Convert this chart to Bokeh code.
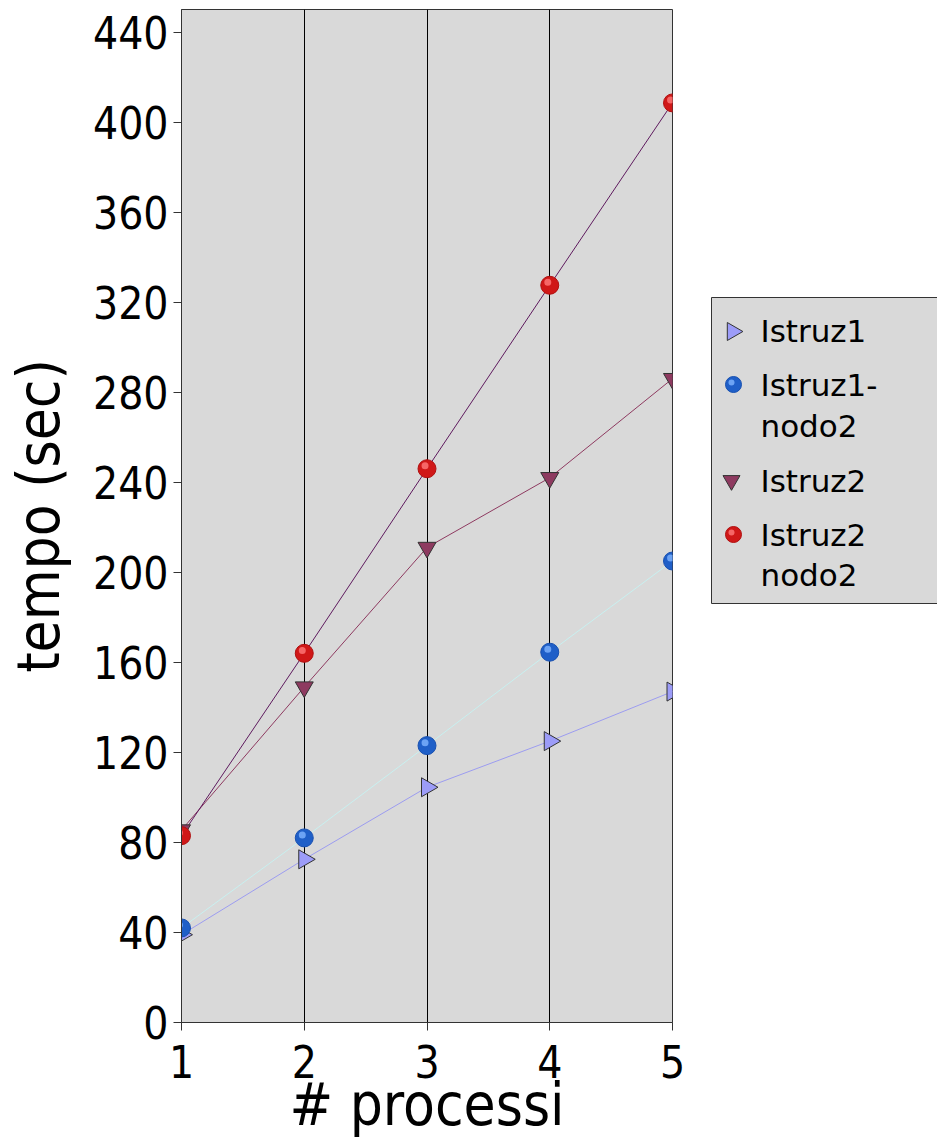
import numpy as np
from bokeh.plotting import figure
from bokeh.layouts import row
from bokeh.core.properties import value
from bokeh.models import Range1d, FixedTicker, ColumnDataSource
from bokeh.transform import dodge
from bokeh.embed import file_html
from bokeh.resources import INLINE

processi = [1, 2, 3, 4, 5]
istruz1 = [39, 72.5, 104.5, 125, 147]
istruz1_nodo2 = [42, 82, 123, 164.5, 205]
istruz2 = [85.5, 149, 211, 242, 286]
istruz2_nodo2 = [83, 164, 246, 327.5, 408.5]
y_ticks = [0, 40, 80, 120, 160, 200, 240, 280, 320, 360, 400, 440]
labels = ["Istruz1", "Istruz1-\nnodo2", "Istruz2", "Istruz2\nnodo2"]

src = ColumnDataSource(dict(x=processi, a=istruz1, b=istruz1_nodo2, c=istruz2, d=istruz2_nodo2))

FONT = "DejaVu Sans Condensed"
LFONT = "DejaVu Sans"
C1_FILL, C1_LINE = "#9C9CF8", "#9C9CF0"
C2_FILL, C2_LINE, C2_HI = "#1F5FC8", "#C8F0F0", "#7FB4FF"
C3_FILL, C3_LINE = "#8E3A60", "#8E3A60"
C4_FILL, C4_LINE, C4_HI = "#D01818", "#5E1A5E", "#FF7A7A"

p = figure(width=690, height=1144, output_backend="svg", toolbar_location=None,
           x_range=Range1d(1, 5), y_range=Range1d(0, 450),
           min_border_left=181, min_border_top=9, min_border_right=18, min_border_bottom=122)
p.background_fill_color = "#D9D9D9"
p.border_fill_color = "white"
p.outline_line_color = "#333333"
p.outline_line_width = 1

p.xaxis.ticker = FixedTicker(ticks=processi)
p.yaxis.ticker = FixedTicker(ticks=y_ticks)
p.ygrid.grid_line_color = None
p.xgrid.grid_line_color = "black"
p.xgrid.grid_line_width = 1
for ax in (p.xaxis[0], p.yaxis[0]):
    ax.major_label_text_font = FONT
    ax.major_label_text_font_size = "44px"
    ax.major_label_text_color = "black"
    ax.axis_label_text_font = FONT
    ax.axis_label_text_font_size = "58px"
    ax.axis_label_text_font_style = "normal"
    ax.axis_label_text_color = "black"
    ax.axis_line_color = "#333333"
    ax.major_tick_line_color = "#333333"
    ax.major_tick_out = 8
    ax.major_tick_in = 0
    ax.minor_tick_line_color = None
p.xaxis.axis_label = "# processi"
p.yaxis.axis_label = "tempo (sec)"
p.xaxis.major_label_standoff = 14
p.yaxis.major_label_standoff = 5
p.xaxis.axis_label_standoff = -10
p.yaxis.axis_label_standoff = 17

# lines
p.line("x", "a", source=src, line_color=C1_LINE, line_width=1)
p.line("x", "b", source=src, line_color=C2_LINE, line_width=1)
p.line("x", "c", source=src, line_color=C3_LINE, line_width=1)
p.line("x", "d", source=src, line_color=C4_LINE, line_width=1)

# markers
p.scatter("x", "a", source=src, marker="triangle", angle=-np.pi / 2, size=19,
          fill_color=C1_FILL, line_color="#333333", line_width=1)
p.scatter("x", "c", source=src, marker="inverted_triangle", size=18,
          fill_color=C3_FILL, line_color="#333333", line_width=1)
p.scatter("x", "b", source=src, marker="circle", size=18,
          fill_color=C2_FILL, line_color="#1850B0", line_width=1)
p.scatter(dodge("x", -0.016), dodge("b", 1.3), source=src, marker="circle", size=7,
          fill_color=C2_HI, line_color=None, fill_alpha=0.8)
p.scatter("x", "d", source=src, marker="circle", size=18,
          fill_color=C4_FILL, line_color="#B01010", line_width=1)
p.scatter(dodge("x", -0.016), dodge("d", 1.3), source=src, marker="circle", size=7,
          fill_color=C4_HI, line_color=None, fill_alpha=0.8)

# legend panel (page-pixel coordinates; its frame is aligned with the main frame 9..1022)
lg = figure(width=247, height=1144, output_backend="svg", toolbar_location=None,
            x_range=Range1d(690, 937), y_range=Range1d(1022, 9),
            x_axis_type=None, y_axis_type=None,
            min_border_left=0, min_border_right=0, min_border_top=9, min_border_bottom=122)
lg.outline_line_color = None
lg.background_fill_color = "white"
lg.border_fill_color = "white"
lg.grid.grid_line_color = None
lg.quad(left=[711], right=[950], top=[297], bottom=[603],
        fill_color="#D9D9D9", line_color="#333333", line_width=1)

lg.scatter([732], [331], marker="triangle", angle=-np.pi / 2, size=18,
           fill_color=C1_FILL, line_color="#333333", line_width=1)
lg.scatter([733], [384], marker="circle", size=16, fill_color=C2_FILL, line_color="#1850B0")
lg.scatter([731], [382], marker="circle", size=6, fill_color=C2_HI, line_color=None, fill_alpha=0.8)
lg.scatter([731], [480], marker="inverted_triangle", size=17,
           fill_color=C3_FILL, line_color="#333333", line_width=1)
lg.scatter([733], [534], marker="circle", size=16, fill_color=C4_FILL, line_color="#B01010")
lg.scatter([731], [532], marker="circle", size=6, fill_color=C4_HI, line_color=None, fill_alpha=0.8)

item_baselines = [[330], [384, 425], [480], [534, 574]]
tx, ty, tt = [], [], []
for lab, bls in zip(labels, item_baselines):
    for line, b in zip(lab.split("\n"), bls):
        tx.append(760)
        ty.append(b)
        tt.append(line)
lg.text(tx, ty, text=tt, text_font=value(LFONT), text_font_size=value("31px"),
        text_color="black", text_baseline="alphabetic", text_align="left")

open("out.html", "w").write(file_html(row(p, lg, spacing=0), INLINE))
